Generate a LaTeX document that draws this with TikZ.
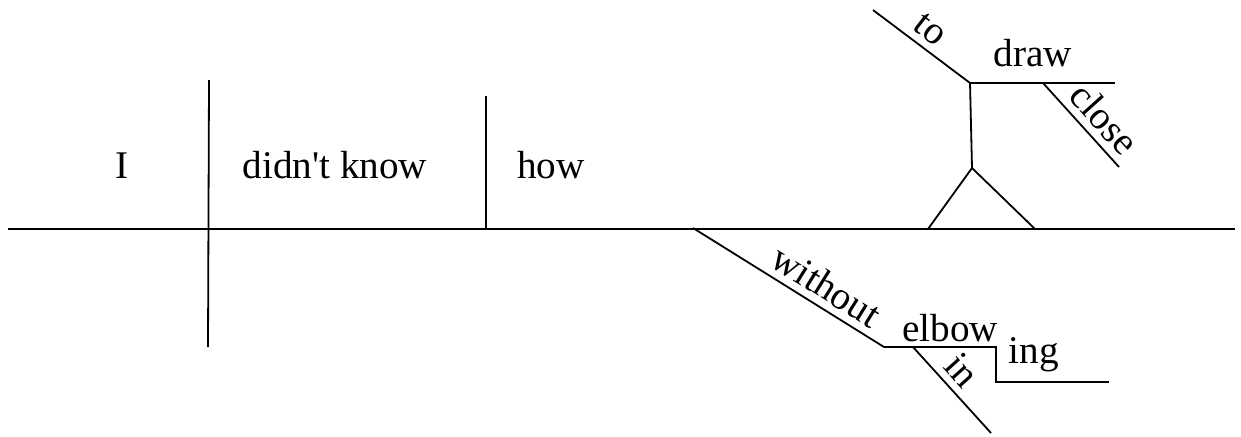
\documentclass[tikz,border=0pt]{standalone}
\usepackage{fontspec}
\setmainfont{Liberation Serif}

\begin{document}
\begin{tikzpicture}[x=0.5pt,y=0.5pt,yscale=-1,xscale=1,line width=0.9pt,
  word/.style={inner sep=0.75pt,font=\fontsize{19.6}{23}\selectfont},
  slant/.style={word,anchor=south,inner sep=3.5pt,rotate=#1}]
\useasboundingbox (0,0) rectangle (1241,436);
% Points of the main line
\coordinate (baseL) at (8,229);
\coordinate (baseR) at (1235,229);
\coordinate (subjT) at (209,80);
\coordinate (subjB) at (208,347);
\coordinate (howT) at (486,96);
\coordinate (howB) at (486,229);
% Points of the infinitive on its pedestal
\coordinate (legL) at (928,229);
\coordinate (legR) at (1035,229);
\coordinate (apex) at (972,168);
\coordinate (stemT) at (970,83);
\coordinate (toA) at (873,10);
\coordinate (drawR) at (1115,83);
\coordinate (closeA) at (1043,83);
\coordinate (closeB) at (1119,167);
% Points of the prepositional phrase
\coordinate (withA) at (693,228);
\coordinate (withB) at (884,347);
\coordinate (elbowR) at (996,347);
\coordinate (ingL) at (996,382);
\coordinate (ingR) at (1109,382);
\coordinate (inA) at (913,347);
\coordinate (inB) at (991,433);

%Shape: main line and dividers
\draw (baseL) -- (baseR);
\draw (subjT) -- (subjB);
\draw (howT) -- (howB);
%Shape: pedestal
\draw (legL) -- (apex) -- (legR);
\draw (apex) -- (stemT);
\draw (toA) -- (stemT) node [slant=-38,pos=0.47] (toword) {to};
\draw (stemT) -- (drawR);
\draw (closeA) -- (closeB) node [slant=-48,pos=0.6] (closeword) {close};
%Shape: phrase under the line
\draw (withA) -- (withB) node [slant=-32,pos=0.64] (withoutword) {without};
\draw (withB) -- (elbowR) -- (ingL) -- (ingR);
\draw (inA) -- (inB) node [slant=-48,pos=0.43] (inword) {in};

% Text Node
\node [word,anchor=base] (subj) at (122,178) {I};
% Text Node
\node [word,anchor=base] (verb) at (335,178) {didn\textquotesingle t know};
% Text Node
\node [word,anchor=base] (adv) at (551,178) {how};
% Text Node
\node [word,anchor=base] (drawword) at (1033,66) {draw};
% Text Node
\node [word,anchor=base] (elbowword) at (950,341) {elbow};
% Text Node
\node [word,anchor=base] (ingword) at (1034,363) {ing};
\end{tikzpicture}
\end{document}
